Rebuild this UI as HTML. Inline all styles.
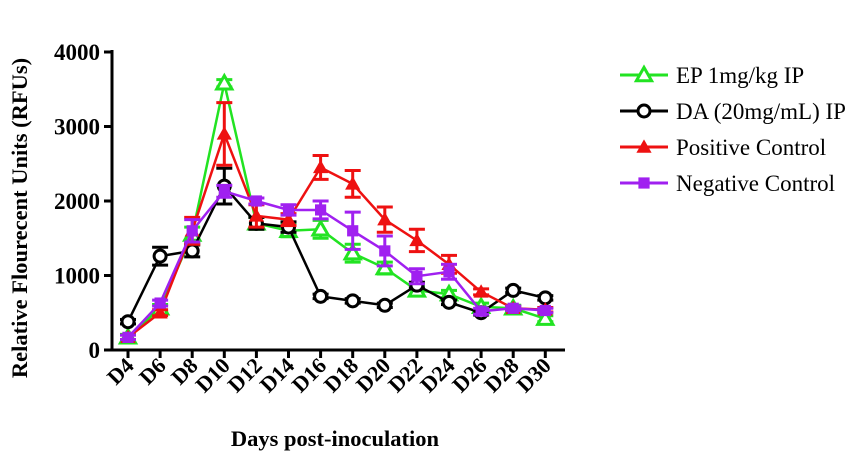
<!DOCTYPE html>
<html><head><meta charset="utf-8">
<style>
body{margin:0;background:#fff;}
svg{display:block;font-family:"Liberation Serif",serif;}
</style></head>
<body>
<svg id="chart" width="851" height="472" viewBox="0 0 851 472"></svg>
<script>
const categories=["D4","D6","D8","D10","D12","D14","D16","D18","D20","D22","D24","D26","D28","D30"];
const yTicks=[0,1000,2000,3000,4000];
const epValues=[170,560,1550,3580,1700,1600,1620,1300,1100,800,750,580,560,420];
const epErr=[40,50,100,50,80,80,120,120,80,60,50,50,40,40];
const daValues=[380,1260,1330,2200,1700,1650,720,660,600,870,640,500,800,700];
const daErr=[30,120,80,240,80,70,30,30,30,40,30,30,30,30];
const posValues=[170,500,1600,2900,1800,1750,2450,2230,1750,1470,1150,780,560,540];
const posErr=[30,40,180,420,150,80,160,180,170,150,120,40,30,30];
const negValues=[170,630,1600,2130,2000,1880,1880,1600,1330,990,1050,520,560,530];
const negErr=[30,40,150,80,40,70,120,250,200,100,100,40,30,30];
const series=[
 {name:"EP 1mg/kg IP",v:epValues,e:epErr,c:"#22e322",m:"tri-open"},
 {name:"DA (20mg/mL) IP",v:daValues,e:daErr,c:"#000000",m:"circle"},
 {name:"Positive Control",v:posValues,e:posErr,c:"#ee1111",m:"tri"},
 {name:"Negative Control",v:negValues,e:negErr,c:"#a020f0",m:"square"}
];
const NS="http://www.w3.org/2000/svg";
const svg=document.getElementById('chart');
function el(t,a,p){const e=document.createElementNS(NS,t);for(const k in a)e.setAttribute(k,a[k]);(p||svg).appendChild(e);return e;}
const x0=128,dx=32.1,yBase=350,yPer=74.5/1000;
const xs=i=>x0+i*dx;
const ys=v=>yBase-v*yPer;
const ax=el('g',{});


el('line',{x1:112,y1:50,x2:112,y2:351.5,stroke:'#000','stroke-width':3},ax);
el('line',{x1:110.5,y1:350,x2:565,y2:350,stroke:'#000','stroke-width':3},ax);
yTicks.forEach(t=>{
 el('line',{x1:104,y1:ys(t),x2:112,y2:ys(t),stroke:'#000','stroke-width':3},ax);
 const tx=el('text',{x:100,y:ys(t)+8,'text-anchor':'end','font-size':23,'font-weight':'bold'},ax);
 tx.textContent=t;
 
 
});
categories.forEach((c,i)=>{
 el('line',{x1:xs(i),y1:350,x2:xs(i),y2:358,stroke:'#000','stroke-width':3},ax);
 const tx=el('text',{x:xs(i)+7,y:367,'text-anchor':'end','font-size':22,'font-weight':'bold',transform:`rotate(-45 ${xs(i)+7} 367)`},ax);
 tx.textContent=c;
 
 
});
const yt=el('text',{x:27,y:218,'text-anchor':'middle','font-size':22.5,'font-weight':'bold',transform:'rotate(-90 27 218)'});
yt.textContent="Relative Flourecent Units (RFUs)";


const xt=el('text',{x:335,y:446,'text-anchor':'middle','font-size':22.5,'font-weight':'bold'});
xt.textContent="Days post-inoculation";


function marker(g,m,x,y,c,s){
 if(m==='circle')el('circle',{cx:x,cy:y,r:s*0.75,fill:'#fff',stroke:c,'stroke-width':3},g);
 else if(m==='square')el('rect',{x:x-s*0.7,y:y-s*0.7,width:s*1.4,height:s*1.4,fill:c},g);
 else{const h=s*0.95;const pts=`${x},${y-h} ${x-h},${y+h*0.75} ${x+h},${y+h*0.75}`;
  el('polygon',{points:pts,fill:m==='tri'?c:'#fff',stroke:c,'stroke-width':m==='tri'?0:3},g);}
}
series.forEach((s,si)=>{
 const g=el('g',{});
 
 
 s.v.forEach((v,i)=>{
  const x=xs(i),a=ys(v+s.e[i]),b=ys(v-s.e[i]);
  el('line',{x1:x,y1:a,x2:x,y2:b,stroke:s.c,'stroke-width':3},g);
  el('line',{x1:x-8,y1:a,x2:x+8,y2:a,stroke:s.c,'stroke-width':3},g);
  el('line',{x1:x-8,y1:b,x2:x+8,y2:b,stroke:s.c,'stroke-width':3},g);
 });
 el('polyline',{points:s.v.map((v,i)=>xs(i)+','+ys(v)).join(' '),fill:'none',stroke:s.c,'stroke-width':2.5},g);
 s.v.forEach((v,i)=>marker(g,s.m,xs(i),ys(v),s.c,8));
 const ly=75+si*36;
 const lg=el('g',{});
 
 
 el('line',{x1:620,y1:ly,x2:668,y2:ly,stroke:s.c,'stroke-width':3},lg);
 marker(lg,s.m,644,ly,s.c,8);
 const t=el('text',{x:676,y:ly+8,'font-size':23},lg);
 t.textContent=s.name;
});
</script>
</body></html>
